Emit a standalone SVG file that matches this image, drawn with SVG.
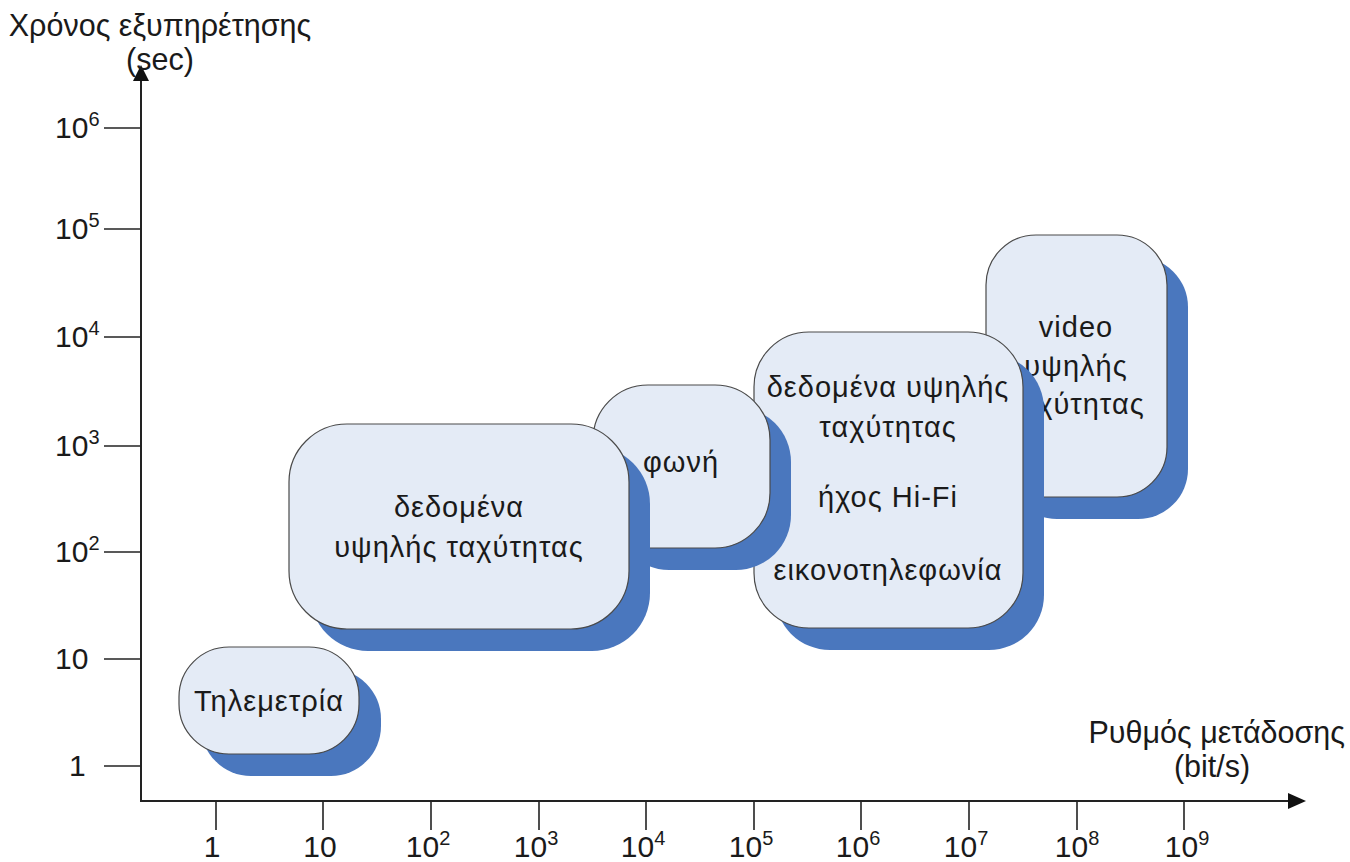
<svg xmlns="http://www.w3.org/2000/svg" width="1350" height="862" viewBox="0 0 1350 862">
<style>
.t{font-family:"Liberation Sans",Arial,sans-serif;font-size:30px;fill:#1a1a1a}
.a{font-size:30.5px}
.n{font-family:"Liberation Sans",Arial,sans-serif;font-size:29px;fill:#1a1a1a;text-anchor:middle;letter-spacing:1px}
.m{text-anchor:middle}
.ax{stroke:#222;stroke-width:2;fill:none}
.tk{stroke:#222;stroke-width:1.6}
.sh{fill:#4a77be}
.fr{fill:#e4ebf6;stroke:#4a4a4a;stroke-width:1.2}
</style>
<rect width="1350" height="862" fill="#fff"/>
<g id="axes">
<line class="ax" x1="141" y1="78" x2="141" y2="801"/>
<line class="ax" x1="140" y1="801" x2="1290" y2="801"/>
<polygon points="141,65 133,81 149,81" fill="#111"/>
<polygon points="1306,801 1288,793 1288,809" fill="#111"/>
<g class="tk">
<line x1="104" y1="128" x2="141" y2="128"/>
<line x1="104" y1="229" x2="141" y2="229"/>
<line x1="104" y1="337" x2="141" y2="337"/>
<line x1="104" y1="446" x2="141" y2="446"/>
<line x1="104" y1="552" x2="141" y2="552"/>
<line x1="104" y1="659" x2="141" y2="659"/>
<line x1="104" y1="766" x2="141" y2="766"/>
<line x1="216" y1="801" x2="216" y2="830"/>
<line x1="323" y1="801" x2="323" y2="830"/>
<line x1="431" y1="801" x2="431" y2="830"/>
<line x1="539" y1="801" x2="539" y2="830"/>
<line x1="646" y1="801" x2="646" y2="830"/>
<line x1="754" y1="801" x2="754" y2="830"/>
<line x1="861" y1="801" x2="861" y2="830"/>
<line x1="969" y1="801" x2="969" y2="830"/>
<line x1="1077" y1="801" x2="1077" y2="830"/>
<line x1="1184" y1="801" x2="1184" y2="830"/>
</g>
<text class="t a m" x="160" y="36">Χρόνος εξυπηρέτησης</text>
<text class="t a m" x="160" y="70">(sec)</text>
<text class="t a" x="1345" y="743" text-anchor="end">Ρυθμός μετάδοσης</text>
<text class="t a m" x="1212" y="777">(bit/s)</text>
<text class="t" x="55" y="138">10<tspan font-size="20" dy="-12">6</tspan></text>
<text class="t" x="55" y="239">10<tspan font-size="20" dy="-12">5</tspan></text>
<text class="t" x="55" y="347">10<tspan font-size="20" dy="-12">4</tspan></text>
<text class="t" x="55" y="456">10<tspan font-size="20" dy="-12">3</tspan></text>
<text class="t" x="55" y="562">10<tspan font-size="20" dy="-12">2</tspan></text>
<text class="t" x="55" y="669">10</text>
<text class="t" x="69" y="776">1</text>
<text class="t m" x="212" y="857">1</text>
<text class="t m" x="320" y="857">10</text>
<text class="t m" x="428" y="857">10<tspan font-size="20" dy="-12">2</tspan></text>
<text class="t m" x="536" y="857">10<tspan font-size="20" dy="-12">3</tspan></text>
<text class="t m" x="643" y="857">10<tspan font-size="20" dy="-12">4</tspan></text>
<text class="t m" x="751" y="857">10<tspan font-size="20" dy="-12">5</tspan></text>
<text class="t m" x="858" y="857">10<tspan font-size="20" dy="-12">6</tspan></text>
<text class="t m" x="966" y="857">10<tspan font-size="20" dy="-12">7</tspan></text>
<text class="t m" x="1077" y="857">10<tspan font-size="20" dy="-12">8</tspan></text>
<text class="t m" x="1187" y="857">10<tspan font-size="20" dy="-12">9</tspan></text>
</g>
<g id="connectors"></g>
<g id="node-video">
<rect class="sh" x="1007" y="257" width="181" height="262" rx="50"/>
<rect class="fr" x="986" y="235" width="181" height="262" rx="50"/>
<text class="n" x="1076" y="337">video</text>
<text class="n" x="1076" y="376">υψηλής</text>
<text class="n" x="1076" y="414">ταχύτητας</text>
</g>
<g id="node-highspeed-av">
<rect class="sh" x="775" y="354" width="269" height="296" rx="55"/>
<rect class="fr" x="754" y="332" width="269" height="296" rx="55"/>
<text class="n" x="888" y="397">δεδομένα υψηλής</text>
<text class="n" x="888" y="437">ταχύτητας</text>
<text class="n" x="888" y="507">ήχος Hi-Fi</text>
<text class="n" x="888" y="580">εικονοτηλεφωνία</text>
</g>
<g id="node-voice">
<rect class="sh" x="614" y="407" width="177" height="163" rx="55"/>
<rect class="fr" x="593" y="385" width="177" height="163" rx="55"/>
<text class="n" x="681" y="472">φωνή</text>
</g>
<g id="node-data">
<rect class="sh" x="310" y="446" width="340" height="205" rx="58"/>
<rect class="fr" x="289" y="424" width="340" height="205" rx="58"/>
<text class="n" x="459" y="517">δεδομένα</text>
<text class="n" x="459" y="557">υψηλής ταχύτητας</text>
</g>
<g id="node-telemetry">
<rect class="sh" x="201" y="669" width="180" height="107" rx="50"/>
<rect class="fr" x="179" y="647" width="180" height="107" rx="50"/>
<text class="n" x="269" y="711">Τηλεμετρία</text>
</g>
</svg>
